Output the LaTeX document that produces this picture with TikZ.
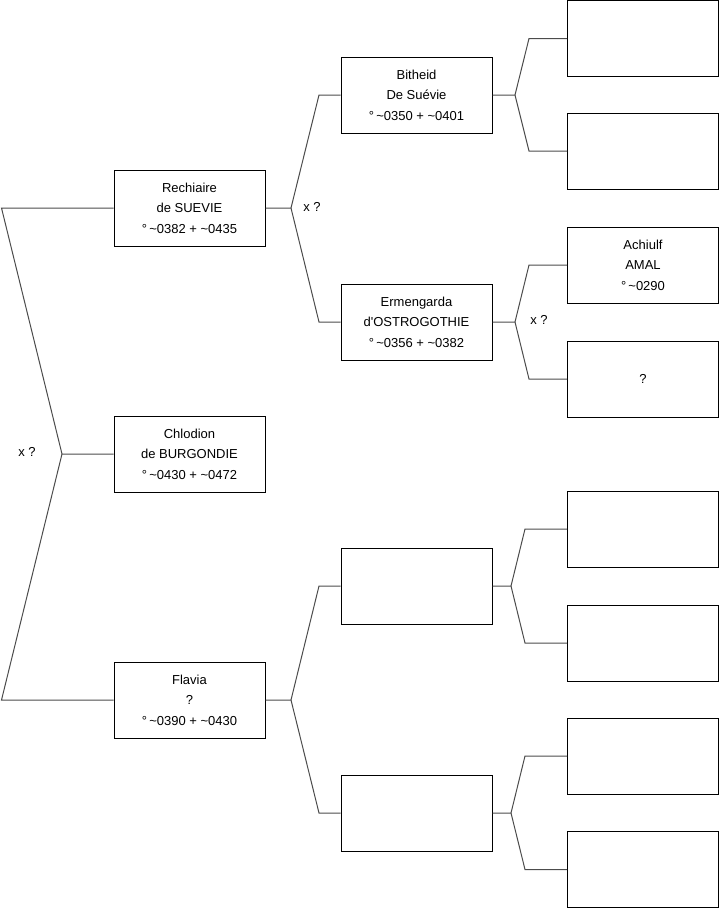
\documentclass[tikz,border=0pt]{standalone}
\usepackage{fontspec}
\setmainfont{Liberation Sans}
\tikzset{
  pers/.style={draw=black, line width=1pt, minimum width=151pt, minimum height=76pt,
    inner sep=0pt, align=center, font=\fontsize{13}{20.5}\selectfont},
  lien/.style={draw=black!70, line width=1pt},
  union/.style={inner sep=0pt, font=\fontsize{13}{15}\selectfont}
}
\newcommand{\naiss}{°\,\textasciitilde}
\newcommand{\mort}{+ \textasciitilde}
\begin{document}
\begin{tikzpicture}[x=1pt,y=-1pt]
            \useasboundingbox (0,0) rectangle (719,908);
            % Generation 1
            \node[pers] (rechiaire) at (189.5,208) {Rechiaire\\de SUEVIE\\\naiss0382 \mort0435};
            \node[pers] (chlodion) at (189.5,454) {Chlodion\\de BURGONDIE\\\naiss0430 \mort0472};
            \node[pers] (flavia) at (189.5,700) {Flavia\\?\\\naiss0390 \mort0430};
            % Generation 2
            \node[pers] (bitheid) at (416.5,95) {Bitheid\\De Suévie\\\naiss0350 \mort0401};
            \node[pers] (ermengarda) at (416.5,322) {Ermengarda\\d\textquotesingle OSTROGOTHIE\\\naiss0356 \mort0382};
            \node[pers] (gpa) at (416.5,586) {};
            \node[pers] (gpb) at (416.5,813) {};
            % Generation 3
            \node[pers] (ba) at (643,38.5) {};
            \node[pers] (bb) at (643,151) {};
            \node[pers] (achiulf) at (643,265) {Achiulf\\AMAL\\\naiss0290};
            \node[pers] (inconnu) at (643,379) {?};
            \node[pers] (fa) at (643,529) {};
            \node[pers] (fb) at (643,643) {};
            \node[pers] (fc) at (643,756) {};
            \node[pers] (fd) at (643,869.5) {};

            % Liens
            \coordinate (h0) at (1.5,208);
            \coordinate (v0) at (62,454);
            \coordinate (b0) at (1.5,700);
            \draw[lien] (rechiaire.west) -- (h0) -- (v0) -- (chlodion.west);
            \draw[lien] (v0) -- (b0) -- (flavia.west);
            \node[union] (x0) at (27,452) {x ?};

            \coordinate (v1) at (291,208);
            \draw[lien] (rechiaire.east) -- (v1) -- (319,95) -- (bitheid.west);
            \draw[lien] (v1) -- (319,322) -- (ermengarda.west);
            \node[union] (x1) at (312,207) {x ?};

            \coordinate (v2) at (291,700);
            \draw[lien] (flavia.east) -- (v2) -- (319,586) -- (gpa.west);
            \draw[lien] (v2) -- (319,813) -- (gpb.west);

            \coordinate (v3) at (515,95);
            \draw[lien] (bitheid.east) -- (v3) -- (529,38.5) -- (ba.west);
            \draw[lien] (v3) -- (529,151) -- (bb.west);

            \coordinate (v4) at (515,322);
            \draw[lien] (ermengarda.east) -- (v4) -- (529,265) -- (achiulf.west);
            \draw[lien] (v4) -- (529,379) -- (inconnu.west);
            \node[union] (x4) at (539,320) {x ?};

            \coordinate (v5) at (511,586);
            \draw[lien] (gpa.east) -- (v5) -- (525,529) -- (fa.west);
            \draw[lien] (v5) -- (525,643) -- (fb.west);

            \coordinate (v6) at (511,813);
            \draw[lien] (gpb.east) -- (v6) -- (525,756) -- (fc.west);
            \draw[lien] (v6) -- (525,869.5) -- (fd.west);
\end{tikzpicture}
\end{document}
